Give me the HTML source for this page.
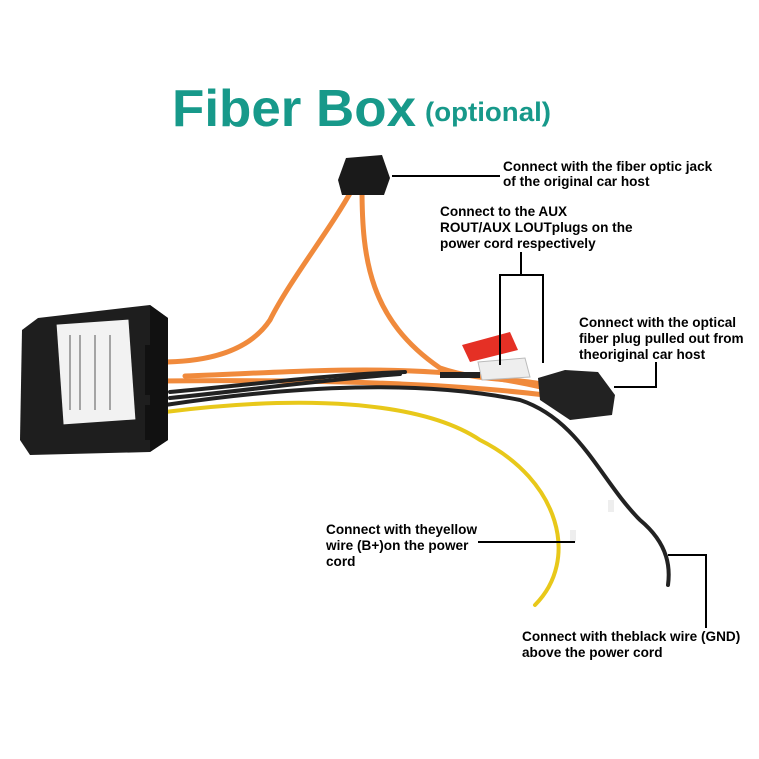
<!DOCTYPE html>
<html><head><meta charset="utf-8"><style>
html,body{margin:0;padding:0;background:#fff;}
svg{display:block;}
text{font-family:"Liberation Sans",sans-serif;}
.l{font-size:13.6px;font-weight:bold;fill:#000;}
</style></head><body>
<svg width="759" height="759" viewBox="0 0 759 759" xmlns="http://www.w3.org/2000/svg">
<rect width="759" height="759" fill="#fff"/>
<text x="172" y="126" font-size="52" fill="#17998a" textLength="244" lengthAdjust="spacingAndGlyphs" style="font-weight:bold">Fiber Box</text>
<text x="425" y="121" font-size="27" fill="#17998a" font-weight="bold" textLength="126" lengthAdjust="spacingAndGlyphs">(optional)</text>

<!-- orange fibers -->
<g fill="none" stroke="#f08a3c" stroke-width="5" stroke-linecap="round">
<path d="M353 188 C330 230 290 280 270 320 C250 350 210 362 160 362"/>
<path d="M362 188 C362 260 370 320 440 368 C480 382 520 378 545 385"/>
<path d="M160 381 C260 380 420 380 545 395"/>
<path d="M185 376 C300 372 430 360 545 388"/>
</g>
<!-- yellow / black wires -->
<g fill="none" stroke-linecap="round">
<path d="M165 412 C300 395 420 400 480 440 C560 480 580 560 535 605" stroke="#e8c81a" stroke-width="4"/>
<path d="M165 405 C300 385 420 380 520 400 C580 420 600 480 640 520 C670 545 670 570 668 585" stroke="#222" stroke-width="4"/>
<path d="M170 398 C250 390 320 380 400 374" stroke="#222" stroke-width="4"/>
<path d="M170 392 C250 385 320 375 405 372" stroke="#222" stroke-width="4"/>
</g>
<rect x="570" y="530" width="6" height="12" fill="#eee"/>
<rect x="608" y="500" width="6" height="12" fill="#eee"/>

<!-- box -->
<path d="M38 318 L150 305 L168 318 L168 440 L150 452 L30 455 L20 440 L22 330 Z" fill="#1e1e1e"/>
<path d="M150 305 L168 318 L168 440 L150 452 Z" fill="#111"/>
<rect x="60" y="322" width="72" height="100" fill="#f2f2f2" transform="rotate(-4 96 372)"/>
<g stroke="#555" stroke-width="1">
<line x1="70" y1="335" x2="70" y2="410"/><line x1="80" y1="335" x2="80" y2="410"/><line x1="95" y1="335" x2="95" y2="410"/><line x1="110" y1="335" x2="110" y2="410"/>
</g>
<rect x="145" y="345" width="18" height="50" fill="#111"/>
<rect x="145" y="405" width="22" height="35" fill="#111"/>

<!-- top connector -->
<path d="M346 158 L382 155 L390 178 L384 195 L342 195 L338 180 Z" fill="#1a1a1a"/>
<!-- RCA plugs -->
<path d="M462 345 L510 332 L518 350 L470 362 Z" fill="#e53025"/>
<path d="M478 362 L525 358 L530 377 L482 380 Z" fill="#eee" stroke="#bbb"/>
<rect x="440" y="372" width="40" height="6" fill="#222"/>
<!-- right connector -->
<path d="M538 378 L565 370 L598 372 L615 395 L612 415 L570 420 L540 400 Z" fill="#222"/>

<!-- leader lines -->
<g stroke="#000" stroke-width="2" fill="none">
<line x1="392" y1="176" x2="500" y2="176"/>
<polyline points="500,365 500,275 543,275 543,363"/>
<line x1="521" y1="252" x2="521" y2="275"/>
<polyline points="614,387 656,387 656,362"/>
<line x1="478" y1="542" x2="575" y2="542"/>
<polyline points="668,555 706,555 706,628"/>
</g>

<text class="l" x="503" y="171">Connect with the fiber optic jack</text>
<text class="l" x="503" y="186">of the original car host</text>
<text class="l" x="440" y="216">Connect to the AUX</text>
<text class="l" x="440" y="232">ROUT/AUX LOUTplugs on the</text>
<text class="l" x="440" y="248">power cord respectively</text>
<text class="l" x="579" y="327">Connect with the optical</text>
<text class="l" x="579" y="343">fiber plug pulled out from</text>
<text class="l" x="579" y="359">theoriginal car host</text>
<text class="l" x="326" y="534">Connect with theyellow</text>
<text class="l" x="326" y="550">wire (B+)on the power</text>
<text class="l" x="326" y="566">cord</text>
<text class="l" x="522" y="641">Connect with theblack wire (GND)</text>
<text class="l" x="522" y="657">above the power cord</text>
</svg>
</body></html>
